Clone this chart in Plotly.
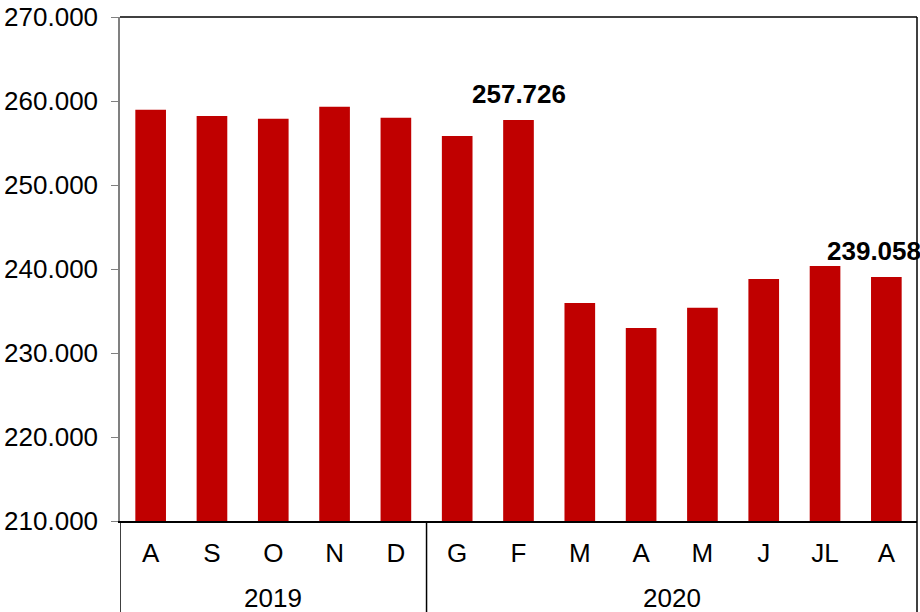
import plotly.graph_objects as go

months = ["A", "S", "O", "N", "D", "G", "F", "M", "A", "M", "J", "JL", "A"]
years = ["2019"] * 5 + ["2020"] * 8
values = [258950, 258200, 257880, 259310, 258000, 255820, 257726,
          235950, 232970, 235390, 238810, 240360, 239058]
y_ticks = [210000, 220000, 230000, 240000, 250000, 260000, 270000]
labelled = {6: "257.726", 12: "239.058"}

idx = list(range(len(months)))
FONT = "Liberation Sans, Arial, sans-serif"
FS = 26

fig = go.Figure(go.Bar(
    x=idx, y=values, marker=dict(color="#C00000", line=dict(width=0)),
    hoverinfo="skip",
))

annotations = []
for i, txt in labelled.items():
    annotations.append(dict(
        x=i, y=values[i], xref="x", yref="y", text="<b>%s</b>" % txt,
        showarrow=False, yanchor="middle", xanchor="center", yshift=26,
        xshift=(-12 if i == 12 else 0),
        font=dict(family=FONT, size=FS, color="black"),
    ))

# year group labels and dividers
shapes = []
groups = []
for i, yv in enumerate(years):
    if not groups or groups[-1][0] != yv:
        groups.append([yv, i, i])
    else:
        groups[-1][2] = i
for yv, a, b in groups:
    annotations.append(dict(
        x=(a + b) / 2, y=-0.153, xref="x", yref="paper", text=yv,
        showarrow=False, yanchor="middle", xanchor="center",
        font=dict(family=FONT, size=FS, color="black"),
    ))
    shapes.append(dict(type="line", xref="x", yref="paper", x0=a - 0.5, x1=a - 0.5,
                       y0=0, y1=-0.19, line=dict(color="black", width=1.5)))
# right border (full height) and top border
shapes.append(dict(type="line", xref="paper", yref="paper", x0=1, x1=1,
                   y0=-0.19, y1=1, line=dict(color="black", width=1.5)))
shapes.append(dict(type="line", xref="paper", yref="paper", x0=0, x1=1,
                   y0=1, y1=1, line=dict(color="black", width=1.5)))

fig.update_layout(
    width=920, height=612,
    margin=dict(l=120, r=3, t=17, b=91, autoexpand=False),
    paper_bgcolor="white", plot_bgcolor="white",
    separators=",.",
    bargap=0.5,
    showlegend=False,
    annotations=annotations,
    shapes=shapes,
    font=dict(family=FONT, size=FS, color="black"),
)
fig.update_xaxes(
    range=[-0.5, len(months) - 0.5],
    tickmode="array", tickvals=idx, ticktext=months,
    showgrid=False, zeroline=False, automargin=False,
    showline=True, linecolor="black", linewidth=1.5,
    ticks="", ticklabelstandoff=8,
    tickfont=dict(family=FONT, size=FS, color="black"),
)
fig.update_yaxes(
    range=[210000, 270000],
    tickmode="array", tickvals=y_ticks, tickformat=",d",
    showgrid=False, zeroline=False, automargin=False,
    showline=True, linecolor="#808080", linewidth=1.5,
    ticks="outside", ticklen=7, tickcolor="#808080", tickwidth=1,
    ticklabelstandoff=8,
    tickfont=dict(family=FONT, size=FS, color="black"),
)

fig.write_html(
    "out.html",
    config={"displayModeBar": False},
    post_script="document.body.style.margin='0';document.body.style.overflow='hidden';",
)
